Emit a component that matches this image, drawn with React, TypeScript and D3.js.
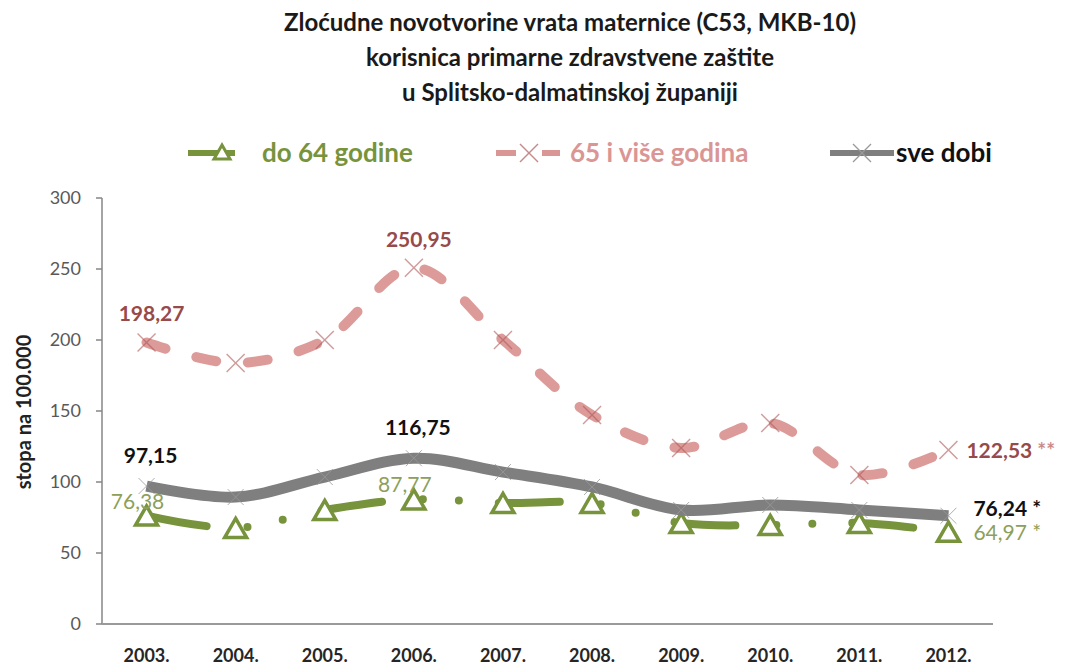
import React from 'react';
import * as d3 from 'd3';

const years = ['2003.', '2004.', '2005.', '2006.', '2007.', '2008.', '2009.', '2010.', '2011.', '2012.'];
const do64 = [76.38, 67.6, 80.3, 87.77, 85.2, 85.2, 71.1, 69.7, 71.1, 64.97];
const plus65 = [198.27, 183.8, 200, 250.95, 200, 147.2, 124, 141.5, 105, 122.53];
const sveDobi = [97.15, 89.4, 103.5, 116.75, 107, 96.5, 80.3, 83.8, 80.3, 76.24];
const yTicks = [0, 50, 100, 150, 200, 250, 300];
const titleLines = [
  'Zloćudne novotvorine vrata maternice (C53, MKB-10)',
  'korisnica primarne zdravstvene zaštite',
  'u Splitsko-dalmatinskoj županiji',
];
const legendNames = ['do 64 godine', '65 i više godina', 'sve dobi'];
const yTitle = 'stopa na 100.000';

// data labels: [index, text, suffix]
const plusLabels: [number, string, string][] = [[0, '198,27', ''], [3, '250,95', ''], [9, '122,53', ' **']];
const sveLabels: [number, string, string][] = [[0, '97,15', ''], [3, '116,75', ''], [9, '76,24', ' *']];
const do64Labels: [number, string, string][] = [[0, '76,38', ''], [3, '87,77', ''], [9, '64,97', ' *']];

const FONT = 'Lato, "Open Sans", sans-serif';
const GREEN = '#77933c';
const PINK = '#da9694';
const GREY = '#7f7f7f';

export default function App() {
  const W = 1067, H = 669;
  const x = d3.scaleBand<string>().domain(years).range([102, 993]);
  const y = d3.scaleLinear().domain([0, 300]).range([624, 198]);
  const cx = (i: number) => (x(years[i]) as number) + x.bandwidth() / 2;
  const line = d3.line<number>().x((_, i) => cx(i)).y((d) => y(d)).curve(d3.curveCatmullRom.alpha(0.5));

  const xMark = (px: number, py: number, r: number, color: string, sw: number, key: string, op = 1) => (
    <g key={key} stroke={color} strokeWidth={sw} opacity={op}>
      <line x1={px - r} y1={py - r} x2={px + r} y2={py + r} />
      <line x1={px - r} y1={py + r} x2={px + r} y2={py - r} />
    </g>
  );
  const tri = (px: number, py: number, s: number, key: string, sw = 3) => {
    const h = s * 0.87;
    return (
      <path key={key} d={`M${px},${py - h / 2} L${px + s / 2},${py + h / 2} L${px - s / 2},${py + h / 2} Z`}
        fill="#fff" stroke={GREEN} strokeWidth={sw} strokeLinejoin="miter" />
    );
  };

  return (
    <svg width={W} height={H} style={{ position: 'absolute', left: 0, top: 0, background: '#fff' }} fontFamily={FONT}>
      {/* title */}
      {titleLines.map((t, i) => (
        <text key={t} x={570} y={31 + i * 35} textAnchor="middle" fontSize={24} fontWeight="bold" fill="#1a1a1a">{t}</text>
      ))}

      {/* legend */}
      <line x1={188} x2={235} y1={153} y2={153} stroke={GREEN} strokeWidth={6} />
      {tri(222, 152, 16, 'lt', 3)}
      <text x={262} y={162} fontSize={26} fontWeight="bold" fill={GREEN}>{legendNames[0]}</text>
      <line x1={496} x2={516} y1={153} y2={153} stroke={PINK} strokeWidth={6} />
      <line x1={542} x2={560} y1={153} y2={153} stroke={PINK} strokeWidth={6} />
      {xMark(529, 153, 9, '#c58a8a', 1.5, 'lx')}
      <text x={570} y={162} fontSize={26} fontWeight="bold" fill={PINK}>{legendNames[1]}</text>
      <line x1={830} x2={894} y1={153} y2={153} stroke={GREY} strokeWidth={6} />
      {xMark(862, 153, 9, '#999', 1.2, 'gx')}
      <text x={896} y={162} fontSize={26} fontWeight="bold" fill="#111">{legendNames[2]}</text>

      {/* y axis */}
      <line x1={102} x2={102} y1={198} y2={624} stroke="#868686" strokeWidth={1.5} />
      {yTicks.map((t) => (
        <g key={t}>
          <line x1={96} x2={102} y1={y(t)} y2={y(t)} stroke="#868686" strokeWidth={1.5} />
          <text x={81} y={y(t) + 6} textAnchor="end" fontSize={18} fill="#595959">{t}</text>
        </g>
      ))}
      <text transform="translate(31,412) rotate(-90)" textAnchor="middle" fontSize={20} fontWeight="bold" fill="#222">{yTitle}</text>

      {/* x axis */}
      <line x1={102} x2={993} y1={624} y2={624} stroke="#9a9a9a" strokeWidth={2} />
      {years.map((yr, i) => (
        <text key={yr} x={cx(i)} y={662} textAnchor="middle" fontSize={18} fontWeight="bold" fill="#262626">{yr}</text>
      ))}

      {/* pink series */}
      <path d={line(plus65) as string} fill="none" stroke={PINK} strokeWidth={10} strokeLinecap="round" strokeDasharray="20 32" opacity={0.95} />
      {plus65.map((v, i) => xMark(cx(i), y(v), 9, '#b05a5a', 1.4, 'p' + i, 0.6))}

      {/* green series */}
      <path d={line(do64) as string} fill="none" stroke={GREEN} strokeWidth={8} strokeLinecap="round" strokeDasharray="61 41 0 36 0 40" />
      {do64.map((v, i) => tri(cx(i), y(v), 22, 'g' + i, 3.5))}

      {/* grey series */}
      <path d={line(sveDobi) as string} fill="none" stroke={GREY} strokeWidth={11} strokeLinejoin="round" />
      {sveDobi.map((v, i) => xMark(cx(i), y(v), 8, '#9a9a9a', 1, 's' + i, 0.8))}

      {/* labels */}
      {plusLabels.map(([i, t, s]) => i === 9 ? (
        <text key={t} x={cx(i) + 18} y={y(plus65[i]) + 8} fontSize={21} fontWeight="bold" fill="#974a4a">{t}<tspan fill="#c98a8a">{s}</tspan></text>
      ) : (
        <text key={t} x={cx(i) + 5} y={y(plus65[i]) - 21} textAnchor="middle" fontSize={21} fontWeight="bold" fill="#974a4a">{t}</text>
      ))}
      {sveLabels.map(([i, t, s]) => i === 9 ? (
        <text key={t} x={cx(i) + 25} y={y(sveDobi[i]) + 0} fontSize={21} fontWeight="bold" fill="#111">{t + s}</text>
      ) : (
        <text key={t} x={cx(i) + 4} y={y(sveDobi[i]) - 23} textAnchor="middle" fontSize={21} fontWeight="bold" fill="#111">{t}</text>
      ))}
      {do64Labels.map(([i, t, s]) => i === 9 ? (
        <text key={t} x={cx(i) + 25} y={y(do64[i]) + 8} fontSize={21} fill="#8da05a">{t + s}</text>
      ) : (
        <text key={t} x={cx(i) - 9} y={y(do64[i]) - 7} textAnchor="middle" fontSize={21} fill="#8da05a">{t}</text>
      ))}
    </svg>
  );
}
